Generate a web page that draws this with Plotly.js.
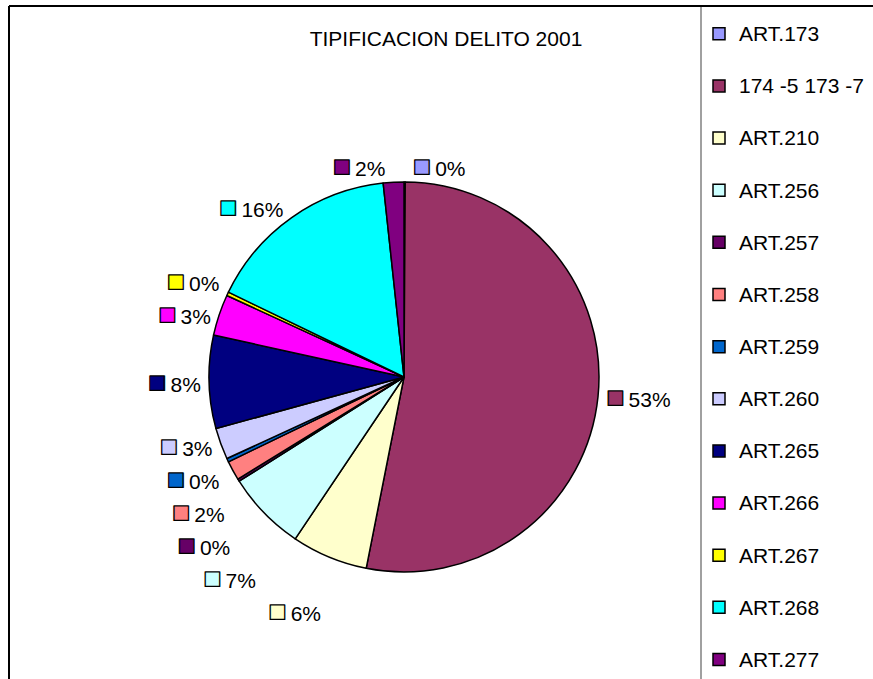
<!DOCTYPE html>
<html>
<head>
<meta charset="utf-8">
<script src="https://cdn.plot.ly/plotly-3.0.1.min.js"></script>
<style>
html,body{margin:0;padding:0;background:#fff;overflow:hidden;}
#wrap{width:873px;height:679px;overflow:hidden;}
#chart{width:873px;height:720px;}
</style>
</head>
<body>
<div id="wrap"><div id="chart"></div></div>
<script>
var categories = ["ART.173","174 -5 173 -7","ART.210","ART.256","ART.257","ART.258","ART.259","ART.260","ART.265","ART.266","ART.267","ART.268","ART.277"];
var shares = [0.1, 52.9, 6.3, 6.6, 0.2, 1.6, 0.3, 2.6, 7.7, 3.4, 0.3, 16.1, 1.7];
var sliceColors = ["#9999FF","#993366","#FFFFCC","#CCFFFF","#660066","#FF8080","#0066CC","#CCCCFF","#000080","#FF00FF","#FFFF00","#00FFFF","#800080"];
var chartTitle = "TIPIFICACION DELITO 2001";

var FONT = "Liberation Sans, Arial, sans-serif";
var legendLabels = categories.map(function(c){
  return '<span style="font-size:21px">' + c + '</span><br>\u00a0';
});
var keyText = sliceColors.map(function(c){
  return '<span style="color:' + c + ';fill-opacity:1;stroke:#000000;stroke-width:1.3px;font-size:30px">\u25A0</span>';
});

var W = 873, H = 720;
var trace = {
  type: "pie",
  labels: legendLabels,
  values: shares,
  text: keyText,
  texttemplate: '%{text}<span style="color:#000000;fill-opacity:1">\u2009%{percent:.0%}</span>',
  textposition: "outside",
  sort: false,
  direction: "clockwise",
  rotation: 0,
  marker: {colors: sliceColors, line: {color: "#000000", width: 1.5}},
  outsidetextfont: {family: FONT, size: 21, color: "rgba(0,0,0,0)"},
  domain: {x: [209/W, 599/W], y: [(H - 572)/H, (H - 182)/H]},
  hoverinfo: "percent"
};

var layout = {
  width: W, height: H,
  margin: {l: 0, r: 0, t: 0, b: 0},
  paper_bgcolor: "#ffffff",
  font: {family: FONT, size: 19, color: "#000000"},
  title: {text: chartTitle, x: 446/W, xanchor: "center", y: 1 - 39/H, yanchor: "middle",
          font: {family: FONT, size: 21, color: "#000000"}},
  showlegend: true,
  legend: {x: 699/W, xanchor: "left", y: 1 - 15/H, yanchor: "top", valign: "top",
           itemwidth: 30, traceorder: "normal",
           font: {family: FONT, size: 18.9, color: "#000000"},
           bgcolor: "rgba(0,0,0,0)"},
  shapes: [
    {type: "line", xref: "paper", yref: "paper", x0: 9/W, x1: 1, y0: 1 - 6/H, y1: 1 - 6/H, line: {color: "#000000", width: 2}},
    {type: "line", xref: "paper", yref: "paper", x0: 9/W, x1: 9/W, y0: 0, y1: 1 - 6/H, line: {color: "#000000", width: 2}},
    {type: "line", xref: "paper", yref: "paper", x0: 701/W, x1: 701/W, y0: 0, y1: 1 - 7/H, line: {color: "#808080", width: 1.5}}
  ]
};

Plotly.newPlot("chart", [trace], layout, {displayModeBar: false, staticPlot: true});
</script>
</body>
</html>
